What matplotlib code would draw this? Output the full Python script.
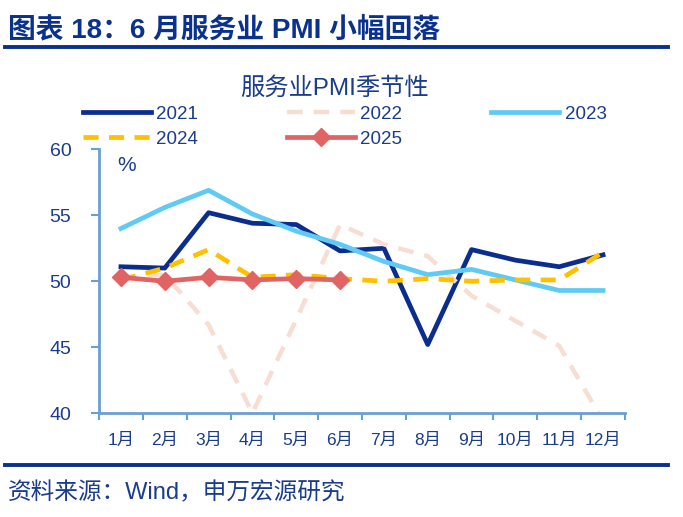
import numpy as np
import matplotlib.pyplot as plt
from matplotlib.lines import Line2D

plt.rcParams['font.family'] = ['Liberation Sans', 'Noto Sans CJK SC', 'DejaVu Sans']

months = ['1月', '2月', '3月', '4月', '5月', '6月', '7月', '8月', '9月', '10月', '11月', '12月']
pmi_2021 = [51.1, 51.0, 55.2, 54.4, 54.3, 52.3, 52.5, 45.2, 52.4, 51.6, 51.1, 52.0]
pmi_2022 = [50.3, 50.5, 46.7, 40.0, 47.1, 54.3, 52.8, 51.9, 48.9, 47.0, 45.1, 39.4]
pmi_2023 = [54.0, 55.6, 56.9, 55.1, 53.8, 52.8, 51.5, 50.5, 50.9, 50.1, 49.3, 49.3]
pmi_2024 = [50.1, 51.0, 52.4, 50.3, 50.5, 50.2, 50.0, 50.2, 50.0, 50.1, 50.1, 52.2]
pmi_2025 = [50.3, 50.0, 50.3, 50.1, 50.2, 50.1]

navy = '#0B318F'
txt = '#1A3C8C'
axc = '#6A9FD4'

fig = plt.figure(figsize=(6.83, 5.17), dpi=100)
ax = fig.add_axes([0.145, 0.201, 0.77, 0.510])

x = np.arange(12)
l21, = ax.plot(x, pmi_2021, color='#0A2D8E', lw=3.4, label='2021')
l22, = ax.plot(x, pmi_2022, color='#F7DDD2', lw=3.2, ls=(0, (3.5, 2.5)), label='2022')
l23, = ax.plot(x, pmi_2023, color='#5FCBF5', lw=3.4, label='2023')
l24, = ax.plot(x, pmi_2024, color='#FFC000', lw=3.4, ls=(0, (3.2, 2.2)), label='2024')
l25, = ax.plot(x[:len(pmi_2025)], pmi_2025, color='#E06464', lw=3.4, marker='D',
               markersize=9.5, label='2025')

ax.set_ylim(40, 60)
ax.set_xlim(-0.5, 11.5)
ax.set_yticks([40, 45, 50, 55, 60])
ax.set_xticks(x)
ax.set_xticklabels(months)
ax.set_xticks(np.arange(-0.5, 12, 1), minor=True)
ax.tick_params(axis='x', which='major', length=0, pad=14, labelsize=12.5, labelcolor=txt)
ax.tick_params(axis='x', which='minor', length=5, width=1.5, color=axc, direction='out')
ax.tick_params(axis='y', length=6, width=1.5, color=axc, labelsize=14, labelcolor=txt, pad=14)
for s in ['top', 'right']:
    ax.spines[s].set_visible(False)
for s in ['left', 'bottom']:
    ax.spines[s].set_color(axc)
    ax.spines[s].set_linewidth(2)

ax.text(0.035, 0.94, '%', transform=ax.transAxes, fontsize=15, color=txt, va='center')

handles = [l21, l24, l22, l25, l23]
fig.legend(handles, [h.get_label() for h in handles], ncol=3, loc='upper left',
           bbox_to_anchor=(0.108, 0.814), frameon=False, fontsize=13.5, labelcolor=txt,
           handlelength=3.6, handletextpad=0.3, columnspacing=4.75, labelspacing=0.42,
           borderpad=0)

fig.text(0.49, 0.83, '服务业PMI季节性', fontsize=17.5, color=txt, ha='center', va='center')

fig.text(0.012, 0.942, '图表 18：6 月服务业 PMI 小幅回落', fontsize=20, fontweight='bold',
         color=navy, va='center')
fig.add_artist(Line2D([0.007, 0.978], [0.909, 0.909], color=navy, lw=2.8,
                      transform=fig.transFigure))
fig.add_artist(Line2D([0.007, 0.978], [0.101, 0.101], color=navy, lw=2.8,
                      transform=fig.transFigure))
fig.text(0.012, 0.046, '资料来源：Wind，申万宏源研究', fontsize=17, color=txt, va='center')

fig.savefig('out.png', dpi=100)
